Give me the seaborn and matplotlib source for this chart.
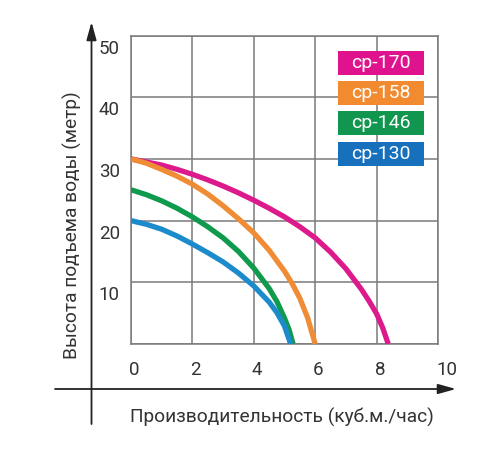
import seaborn as sns
import matplotlib.pyplot as plt
import matplotlib.transforms as mtrans
from matplotlib.patches import Rectangle
import pandas as pd

# pump curves: flow (m3/h) vs head (m)
models = ['cp-170', 'cp-158', 'cp-146', 'cp-130']

q_170 = [0, 0.5, 1, 1.5, 2, 2.5, 3, 3.5, 4, 4.5, 5, 5.5, 6, 6.5, 7, 7.5,
         7.75, 8, 8.2, 8.38]
h_170 = [30, 29.5, 29.0, 28.3, 27.5, 26.6, 25.6, 24.5, 23.3, 22.0, 20.6,
         19.0, 17.2, 14.9, 12.2, 8.9, 7.0, 4.9, 2.6, 0]

q_158 = [0, 0.5, 1, 1.5, 2, 2.5, 3, 3.5, 4, 4.5, 5, 5.25, 5.5, 5.75, 6.0]
h_158 = [30, 29.3, 28.3, 27.2, 25.9, 24.3, 22.4, 20.3, 18.0, 15.2, 11.8,
         9.8, 7.4, 4.3, 0]

q_146 = [0, 0.5, 1, 1.5, 2, 2.5, 3, 3.5, 4, 4.5, 4.75, 5, 5.15, 5.28]
h_146 = [25, 24.2, 23.2, 22.0, 20.6, 19.0, 17.2, 15.0, 12.3, 9.0, 6.9,
         4.2, 2.3, 0]

q_130 = [0, 0.5, 1, 1.5, 2, 2.5, 3, 3.5, 4, 4.5, 4.75, 5, 5.2]
h_130 = [20, 19.4, 18.6, 17.5, 16.2, 14.8, 13.3, 11.5, 9.4, 6.8, 5.1,
         2.9, 0]

x_ticks = [0, 2, 4, 6, 8, 10]
y_ticks = [10, 20, 30, 40, 50]

line_colors = ['#dc1a8c', '#ef8c35', '#109a4e', '#1b8bcb']
box_colors = ['#e0138f', '#f28a30', '#11964f', '#1670bc']
TEXT = '#333333'
GRID = '#7a7a7a'

rows = []
for name, qs, hs in zip(models, [q_170, q_158, q_146, q_130],
                        [h_170, h_158, h_146, h_130]):
    for q, h in zip(qs, hs):
        rows.append({'model': name, 'Q': q, 'H': h})
df = pd.DataFrame(rows)

sns.set_theme(style='white')
plt.rcParams['font.family'] = ['Roboto', 'DejaVu Sans']

fig = plt.figure(figsize=(5, 4.5), dpi=100, facecolor='white')

# outer arrows + axis titles on a full-figure overlay (pixel coords)
ov = fig.add_axes([0, 0, 1, 1], zorder=0)
ov.set_xlim(0, 500)
ov.set_ylim(450, 0)
ov.axis('off')
arrow = dict(arrowstyle='-|>,head_length=0.9,head_width=0.25', lw=1.3,
             color='#222222', shrinkA=0, shrinkB=0)
ov.annotate('', xy=(456, 389), xytext=(55, 389), arrowprops=arrow)
ov.annotate('', xy=(91.5, 22), xytext=(91.5, 424), arrowprops=arrow)
ov.text(282, 417, 'Производительность (куб.м./час)', ha='center', va='center',
        fontsize=13.8, color=TEXT)
ov.text(72, 225, 'Высота подъема воды (метр)', ha='center', va='center',
        rotation=90, fontsize=13.8, color=TEXT)

ax = fig.add_axes([131 / 500, 1 - 344 / 450, 307 / 500, 308.5 / 450], zorder=1)
ax.set_facecolor('white')

sns.lineplot(data=df, x='Q', y='H', hue='model', units='model', sort=False,
             estimator=None, palette=line_colors, hue_order=models,
             linewidth=3.8, legend=False, ax=ax, zorder=3,
             solid_capstyle='butt', solid_joinstyle='round')

ax.set_xlim(0, 10)
ax.set_ylim(0, 50)
ax.set_xticks(x_ticks)
ax.set_yticks([0] + y_ticks)
ax.set_xticklabels([str(v) for v in x_ticks], ha='left')
ax.set_yticklabels([''] + [str(v) for v in y_ticks], va='top')
ax.tick_params(axis='both', length=0, labelsize=13.5, colors=TEXT)
ax.tick_params(axis='x', pad=12)
ax.tick_params(axis='y', pad=8)
off_x = mtrans.ScaledTranslation(-2 / 100, 0, fig.dpi_scale_trans)
off_y = mtrans.ScaledTranslation(0, -4 / 100, fig.dpi_scale_trans)
for lab in ax.get_xticklabels():
    lab.set_transform(lab.get_transform() + off_x)
for lab in ax.get_yticklabels():
    lab.set_transform(lab.get_transform() + off_y)

ax.grid(True, color=GRID, lw=1.1)
for sp in ax.spines.values():
    sp.set_edgecolor(GRID)
    sp.set_linewidth(1.1)
ax.set_xlabel('')
ax.set_ylabel('')

# legend as coloured boxes
for k, (name, col) in enumerate(zip(models, box_colors)):
    top = 47.5 - 4.9 * k
    ax.add_patch(Rectangle((6.74, top - 3.9), 2.8, 3.9, facecolor=col,
                           edgecolor='none', zorder=4))
    ax.text(6.74 + 1.4, top - 1.95, name, ha='center', va='center',
            color='white', fontsize=14, zorder=5)

fig.savefig('out.png', dpi=100, facecolor='white')
